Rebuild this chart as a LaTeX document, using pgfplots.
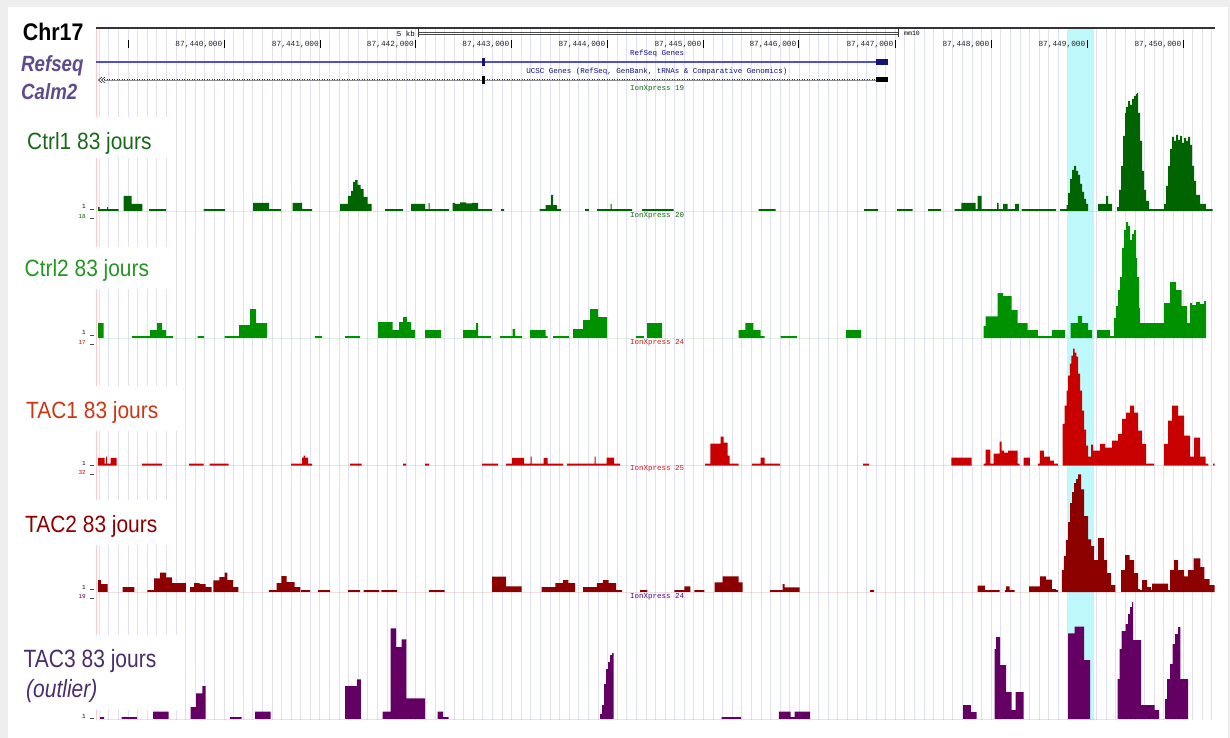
\documentclass[border=0pt]{standalone}
\usepackage{pgfplots}
\pgfplotsset{compat=1.18}
\usepackage{graphicx}
\usepackage{fontspec}
\setmainfont{Liberation Sans}
\newfontfamily\ucsc{Liberation Mono}

\definecolor{framegray}{RGB}{238,238,238}
\definecolor{gridc}{RGB}{224,224,248}
\definecolor{hilite}{RGB}{190,248,250}
\definecolor{pinkl}{RGB}{255,200,205}
\definecolor{ctrlA}{RGB}{0,100,0}
\definecolor{ctrlB}{RGB}{0,145,0}
\definecolor{tacA}{RGB}{200,0,0}
\definecolor{tacB}{RGB}{140,0,0}
\definecolor{tacC}{RGB}{100,0,100}
\definecolor{ctrlAt}{RGB}{25,105,25}
\definecolor{ctrlBt}{RGB}{35,150,35}
\definecolor{tacAt}{RGB}{205,55,20}
\definecolor{tacBt}{RGB}{140,0,0}
\definecolor{tacCt}{RGB}{75,45,110}
\definecolor{refsq}{RGB}{95,75,140}
\definecolor{geneblue}{RGB}{80,80,200}
\definecolor{genenavy}{RGB}{20,20,120}

\newcommand\sq[1]{\scalebox{0.89}[1]{#1}}

\pgfplotsset{
  trk/.style={width=1119pt, height=120pt, scale only axis,
    xmin=96, xmax=1215, ymin=0, ymax=120, axis lines=none,
    anchor=south west},
  sig/.style={const plot, draw=none, fill=#1},
}

\begin{document}
\begin{tikzpicture}
\begin{scope}[x=1pt,y=-1pt]
\path[use as bounding box] (0,0) rectangle (1230,738);
\fill[framegray] (0,0) rectangle (1230,738);
\fill[white] (8,7) rectangle (1228,738);
\end{scope}

% guidelines and highlight
\begin{axis}[at={(96pt,-720pt)}, anchor=south west, width=1119pt, height=692pt,
  scale only axis, xmin=96, xmax=1215, ymin=0, ymax=692,
  axis line style={draw=none}, major tick length=0pt,
  xtick={99.33,108.92,...,1215}, xticklabels={}, ytick=\empty,
  xmajorgrids, grid style={gridc, line width=0.9pt}]
\fill[hilite] (axis cs:1067,0) rectangle (axis cs:1094,692);
\end{axis}

\begin{scope}[x=1pt,y=-1pt]
\draw[pinkl, line width=0.9pt] (96,28) -- (96,720);
% ruler
\draw[black!80, line width=1.4pt] (96,28) -- (1215,28);
\node[anchor=east, inner sep=0, font=\ucsc\fontsize{7.5}{8}\selectfont] at (415,33.5) {5 kb};
\draw[black!70, line width=0.5pt] (418,32.3) -- (898,32.3) (418,34.6) -- (898,34.6);
\draw[black!80, line width=0.8pt] (418,29.5) -- (418,37.5) (898,29.5) -- (898,37.5);
\node[anchor=west, inner sep=0, font=\ucsc\fontsize{6.5}{7}\selectfont] at (904,33.5) {mm10};
\draw[black, line width=0.8pt] (128,40.5) -- (128,48);
\foreach \p/\t in {224/40,320.5/41,415.5/42,511/43,607/44,703/45,798/46,895/47,991/48,1087/49,1183/50}{
  \node[anchor=east, inner sep=0, black!85, font=\ucsc\fontsize{7.8}{8}\selectfont] at (\p-1.5,44.3) {87,4\t,000};
  \draw[black, line width=0.8pt] (\p,40.5) -- (\p,48);
}
% gene tracks
\node[inner sep=0, text=genenavy!80!blue, font=\ucsc\fontsize{7.5}{8}\selectfont] at (657,54) {RefSeq Genes};
\draw[geneblue, line width=1.1pt] (96,62) -- (876,62);
\fill[genenavy] (482,58.5) rectangle (485,66);
\fill[genenavy] (876,59.5) rectangle (888,65);
\node[inner sep=0, text=genenavy, font=\ucsc\fontsize{7.5}{8}\selectfont] at (657,71.3) {UCSC Genes (RefSeq, GenBank, tRNAs \& Comparative Genomics)};
\draw[black!45, line width=0.5pt] (104,80) -- (876,80);
\draw[black!80, line width=1pt, dash pattern=on 1.2pt off 1.3pt] (104,80) -- (876,80);
\draw[black!80, line width=0.6pt] (102,77) -- (98.5,80) -- (102,83) (105,77) -- (101.5,80) -- (105,83);
\fill[black] (482,76.5) rectangle (485,84);
\fill[black] (876,77.5) rectangle (888,82.5);
\node[inner sep=0, text=ctrlAt, font=\ucsc\fontsize{7.5}{8}\selectfont] at (657,89) {IonXpress 19};
\end{scope}

% Ctrl1
\begin{axis}[trk, at={(96pt,-211pt)}]
\addplot[sig=ctrlA] coordinates {
(98,4)(99.5,2)(107,4)(108,2)(118.6,0)
(123.7,15)(131.6,7)(142.3,0)
(149,2)(166,0)
(203.5,2)(225,0)
(253,8)(269,2)(281,0)
(292.5,8)(302,2)(312,0)
(340,7)(347.8,15)(351,20)(353,29)(355,31)(357.7,26)(360.5,22)(363.6,14)(367.6,7)(371.5,0)
(385,2)(403,0)
(411,7)(425,2)(428.5,8)(429.5,2)(449,0)
(452.5,8)(455,7)(460,8.5)(466,7.5)(472,8)(478,2)(492,0)
(501,2)(504,0)
(539.5,2)(545.5,6)(551,16)(553,6)(557,2)(561,0)
(585,2)(589,0)
(597,2)(610.5,7)(611.5,2)(632,0)
(642,2)(673.5,0)
(758.6,2)(775.5,0)
(864,2)(878,0)
(897,2)(912.5,0)
(928,2)(941,0)
(954.6,2)(961.4,8)(975.5,2)(977.5,15)(981.5,2)(997,8)(998.5,2)(1003,7)(1007.6,2)(1015,7)(1019,0)
(1021.7,2)(1056,0)
(1060,2)(1066.5,6)(1068,18)(1070,32)(1072,41)(1074,45)(1076,40)(1078,36)(1080,27)(1082,19)(1084,12)(1086,7)(1088,0)
(1098,7)(1106,15)(1108,7)(1112,0)
(1117,4)(1119,21)(1121,45)(1123,75)(1125,98)(1126,104)(1128,110)(1130,106)(1132,112)(1134,115)(1136,117)(1137,118)(1138,98)(1140,70)(1142,40)(1144,21)(1146,10)(1149,2)
(1164,7)(1166,25)(1168,45)(1170,62)(1172,74)(1174,70)(1176,76)(1178,71)(1180,75)(1182,68)(1184,73)(1186,70)(1188,74)(1190,66)(1192,45)(1194,30)(1196,16)(1200,7)(1206,2)(1212.5,0)
} \closedcycle;
\end{axis}

% Ctrl2
\begin{axis}[trk, at={(96pt,-338pt)}]
\addplot[sig=ctrlB] coordinates {
(98,15)(103.5,0)
(132,2)(150,8)(157,15)(162,8)(166,2)(173,0)
(197.6,2)(204,0)
(224.5,2)(239,13)(250,29)(256,15)(267,0)
(315,2)(322,0)
(345,2)(360,0)
(378,16)(392.5,8)(399,16)(403,21)(407,16)(411,8)(415,0)
(425,8)(441,0)
(463,8)(476,15)(478,2)(491,0)
(500,2)(512.6,9)(515,2)(522,0)
(530,8)(545.5,2)(547.5,0)
(553,2)(569,0)
(573,9)(583,18)(590,29)(598,21)(607,0)
(636,2)(644,0)
(647,15)(662,0)
(738.6,8)(745.4,15)(753.4,8)(760.6,2)(764.7,0)
(780.7,2)(796.8,0)
(845.8,8)(861,0)
(983.5,12)(985.5,21.7)(997.6,45)(1003,42)(1011.6,28)(1017.7,15)(1027.7,8)(1037.8,2)(1051.8,8)(1065,0)
(1070.7,15)(1077.9,22)(1082,15)(1088,8)(1092,0)
(1097,8)(1110,2)(1114,20)(1116,32)(1118,48)(1120,61)(1122,90)(1124,108)(1126,116)(1128,112)(1130,98)(1132,104)(1134,108)(1136,80)(1137,61)(1139,30)(1140,15)
(1164,35)(1170,56)(1176,48)(1181.5,32)(1187,15)(1190,35)(1192,33)(1196,36)(1200,34)(1204,37)(1206,0)
} \closedcycle;
\end{axis}

% TAC1
\begin{axis}[trk, at={(96pt,-465.5pt)}]
\addplot[sig=tacA] coordinates {
(98,7.7)(104.7,2)(106,9)(107,2)(110.7,7.7)(116.6,0)
(142,2)(162,0)
(189,2)(203.5,0)
(209.5,2)(228.5,0)
(291,2)(302,8)(303.5,10)(305,8)(308,2)(312,0)
(350,2)(361.7,0)
(403,2)(406,0)
(425,2)(429,0)
(482,2)(498,0)
(506,2)(512,7.7)(524,2)(530.5,9)(531.5,2)(543.5,7.7)(547.5,2)(563,0)
(567,2)(594.5,9)(595.5,2)(606.7,8)(614,2)(620,0)
(705,2)(710.4,22)(720.5,29)(723.7,23)(727.7,10)(729.7,2)(738.6,0)
(751.8,2)(760.6,8)(764.7,2)(780,0)
(863,2)(869,0)
(951.4,8)(971.5,0)
(983.5,2)(985.5,16)(990.4,2)(993.6,12)(999.6,24)(1001.6,15)(1004,13)(1008,15)(1013,15)(1017.7,2)(1019.7,0)
(1023.7,8)(1029.8,0)
(1037.8,2)(1039.8,15)(1043.8,9)(1049.8,5)(1053.8,2)(1057.8,0)
(1062.6,41.7)(1064.6,60)(1066.6,75)(1068.2,90)(1069.8,102)(1071.4,110)(1073,117)(1074.7,113)(1076.3,109)(1078,92)(1080,75)(1082,55)(1084,36)(1086,20)(1088,9)(1091,21)(1093,15)(1100,21.7)(1105,18)(1112,25)(1118,31.7)(1122,46.7)(1126,53)(1130,60)(1134,53)(1138,35)(1142,21.7)(1146,2)(1154,0)
(1164,21.7)(1168,45)(1172,60)(1178,50)(1184,30)(1190,9)(1194,28)(1200,9)(1205.6,2)(1208.4,0)(1213,2)(1214.5,0)
} \closedcycle;
\end{axis}

% TAC2
\begin{axis}[trk, at={(96pt,-592pt)}]
\addplot[sig=tacB] coordinates {
(98,12)(100.8,8)(107.5,0)
(122.5,5)(134.4,0)
(147.4,2)(154,13.7)(160,19.3)(166,14.7)(172,9)(185.8,0)
(190,5)(194,9)(199.6,8)(205.5,5)(211.5,0)
(213.4,11.7)(219.4,15)(224.5,19.3)(227.3,12)(233.2,5)(238.3,0)
(268.8,2)(276.7,9)(281.4,16)(286.6,10)(294.5,5)(300.4,0)
(301,2)(310,0)
(318,2)(330,0)
(348,2)(360,0)
(363.6,2)(379.4,0)
(381.4,2)(397.2,0)
(428.9,2)(444.7,0)
(492,15.3)(506,5.7)(521.7,0)
(541.5,5)(555.3,9)(563.2,12)(568.4,9)(575,0)
(583,5)(596.8,9)(602.8,12)(608.7,9)(616,2)(622,0)
(640,2)(647.4,0)
(674.3,2)(684.3,5.7)(690.4,0)
(694.4,2)(704.4,0)
(714.5,9.7)(722.5,15.7)(738.6,9.7)(742.6,0)
(770,2)(782.7,8)(784.7,4.7)(799.6,0)
(870,2)(874,0)
(977.5,6.3)(984.8,2)(999.6,0)
(1004.8,2)(1006,5.7)(1009.6,2)(1014.5,0)
(1029,5.7)(1040,15.7)(1046,12.3)(1051.8,3)(1055.8,2)(1058,0)
(1061.8,22)(1063.8,36)(1065.9,52)(1068,70)(1070,89)(1072,100)(1074,109)(1076,113)(1078,117.7)(1081,102.7)(1084,76)(1088,52.7)(1091,46)(1094,32)(1098,54)(1104,32)(1107,19)(1111,7)(1115.3,0)
(1121,22)(1125,37)(1129.6,32)(1134,19)(1138,3)(1140,2)(1142,12)(1147,5)(1151,2)(1152,8.3)(1168,2)(1170,22)(1174,32)(1178,22)(1184,15.7)(1188,22)(1193.6,33.7)(1200.4,25)(1204.4,13)(1209.6,7)(1214.5,0)
} \closedcycle;
\end{axis}

% TAC3
\begin{axis}[trk, at={(96pt,-719pt)}]
\addplot[sig=tacC] coordinates {
(100,2)(104,0)
(121.6,2)(137,0)
(153,7.3)(168.6,0)
(190.6,12)(196,25.7)(202.4,33)(205.5,0)
(229.8,2)(241.6,0)
(255,7.3)(270.6,0)
(345,33)(356.9,39.7)(360.8,0)
(382.7,7.3)(390.6,90.7)(396,72)(401.6,79.7)(406.3,20.7)(425,0)
(437.6,7.3)(443,2)(448.6,0)
(600,5)(602,14)(604,35)(606,50)(608,57)(610,64)(612,66)(613.5,0)
(721.6,2)(741.2,0)
(778.8,7.3)(790.6,2)(794.5,7.3)(810,0)
(963,14)(970.8,7)(976.5,0)
(994.5,70)(996,82)(1000,54)(1006,27)(1011.6,9)(1015.7,27)(1023.5,0)
(1068,85.7)(1074.5,92.3)(1084,59)(1090,0)
(1117.6,40)(1119.5,70)(1121.5,88)(1125.5,95)(1128,105)(1130,112)(1132,117)(1133,79)(1141,14)(1154.5,9)(1159,0)
(1165,20)(1167,40)(1170,55)(1172.5,75)(1175,85)(1178,92)(1180.4,40)(1188,0)
} \closedcycle;
\end{axis}

\begin{scope}[x=1pt,y=-1pt]
% label boxes
\fill[white] (20,117) rectangle (174,158);
\fill[white] (20,247) rectangle (173,289);
\fill[white] (20,386) rectangle (182,431);
\fill[white] (20,500) rectangle (173,545);
\fill[white] (10,635) rectangle (180,710);
% left titles
\node[anchor=base west, inner sep=0, font=\bfseries\fontsize{24}{24}\selectfont] at (22.7,40.7) {\sq{Chr17}};
\node[anchor=base west, inner sep=0, text=refsq, font=\bfseries\itshape\fontsize{22}{22}\selectfont] at (21,72) {\scalebox{0.85}[1]{Refseq}};
\node[anchor=base west, inner sep=0, text=refsq, font=\bfseries\itshape\fontsize{22}{22}\selectfont] at (21,100) {\scalebox{0.85}[1]{Calm2}};
\node[anchor=base west, inner sep=0, text=ctrlAt, font=\fontsize{23.5}{24}\selectfont] at (27,150) {\sq{Ctrl1 83 jours}};
\node[anchor=base west, inner sep=0, text=ctrlBt, font=\fontsize{23.5}{24}\selectfont] at (24.5,276.7) {\sq{Ctrl2 83 jours}};
\node[anchor=base west, inner sep=0, text=tacAt, font=\fontsize{23.5}{24}\selectfont] at (26,418) {\sq{TAC1 83 jours}};
\node[anchor=base west, inner sep=0, text=tacBt, font=\fontsize{23.5}{24}\selectfont] at (25,532) {\sq{TAC2 83 jours}};
\node[anchor=base west, inner sep=0, text=tacCt, font=\fontsize{25}{26}\selectfont] at (23.5,667) {\scalebox{0.84}[1]{TAC3 83 jours}};
\node[anchor=base west, inner sep=0, text=tacCt, font=\itshape\fontsize{25}{26}\selectfont] at (26,697) {\scalebox{0.84}[1]{(outlier)}};
% small range labels
\foreach \yy/\lo/\c in {207/18/ctrlA,333/17/tacA,463.5/32/tacA,587.5/19/tacC}{
  \node[anchor=east, inner sep=0, font=\ucsc\fontsize{6}{6}\selectfont] at (86,\yy) {1};
  \node[anchor=east, inner sep=0, text=\c, font=\ucsc\fontsize{6}{6}\selectfont] at (86,\yy+9.5) {\lo};
  \draw[black!70, line width=0.6pt] (90,\yy+2) -- (94,\yy+2);
  \draw[black!70, line width=0.6pt] (90,\yy+11) -- (94,\yy+11);
}
\node[anchor=east, inner sep=0, font=\ucsc\fontsize{6}{6}\selectfont] at (86,716.5) {1};
\draw[black!70, line width=0.6pt] (90,718) -- (94,718);
% track centre labels
\node[anchor=west, inner sep=0, text=ctrlAt, font=\ucsc\fontsize{7.5}{8}\selectfont] at (630,216) {IonXpress 20};
\node[anchor=west, inner sep=0, text=tacA!90, font=\ucsc\fontsize{7.5}{8}\selectfont] at (630,342.5) {IonXpress 24};
\node[anchor=west, inner sep=0, text=tacA!90, font=\ucsc\fontsize{7.5}{8}\selectfont] at (630,469) {IonXpress 25};
\node[anchor=west, inner sep=0, text=tacC!80!blue, font=\ucsc\fontsize{7.5}{8}\selectfont] at (630,597) {IonXpress 24};
\end{scope}
\end{tikzpicture}
\end{document}
